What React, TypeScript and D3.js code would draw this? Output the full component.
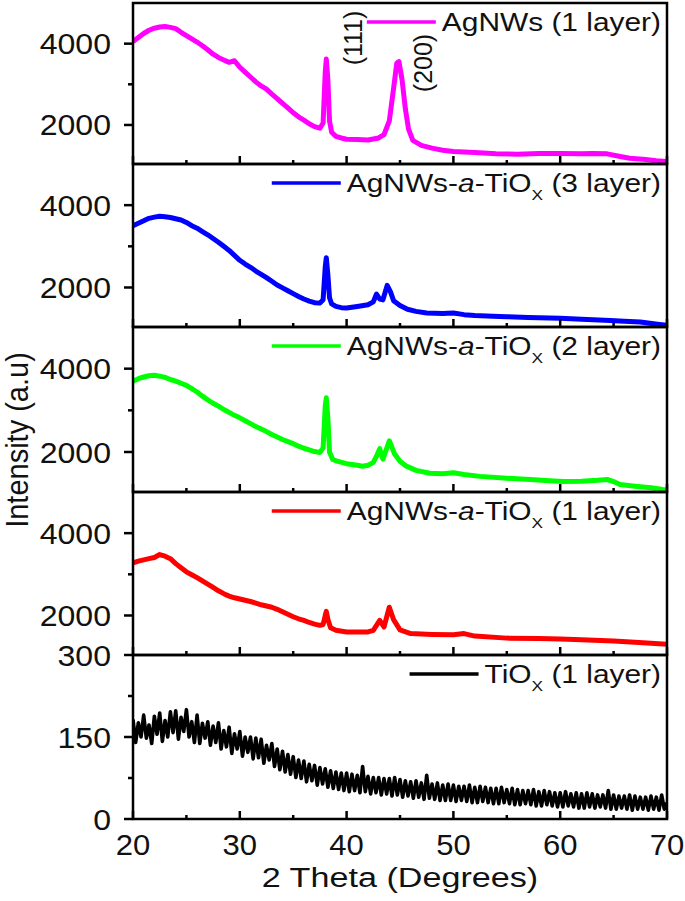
import React, { useEffect, useRef } from "react";
import * as d3 from "d3";

// ---------- data (2θ in degrees, intensity in counts) ----------
const agnw1: [number, number][] = [
  [20, 4050], [20.5, 4150], [21, 4250], [21.5, 4330], [22, 4380], [22.5, 4410], [23, 4420], [23.5, 4400],
  [24, 4370], [24.5, 4280], [25, 4200], [25.5, 4120], [26, 4040], [26.5, 3950], [27, 3850], [27.5, 3740],
  [28, 3660], [28.5, 3600], [29, 3540], [29.5, 3580], [30, 3420], [30.5, 3300], [31, 3180], [31.5, 3060],
  [32, 2960], [32.5, 2880], [33, 2760], [33.5, 2650], [34, 2530], [34.5, 2420], [35, 2300], [35.5, 2200],
  [36, 2120], [36.5, 2030], [37, 1960], [37.5, 1920], [37.8, 2050], [38.0, 3300], [38.1, 3620], [38.25, 3100],
  [38.4, 2100], [38.6, 1820], [39, 1720], [39.5, 1680], [40, 1650], [41, 1640], [42, 1630], [43, 1680],
  [43.5, 1760], [44, 2100], [44.4, 2900], [44.7, 3520], [44.9, 3560], [45.2, 3100], [45.5, 2400], [45.8, 1900],
  [46.2, 1620], [47, 1500], [48, 1430], [49, 1380], [50, 1350], [52, 1320], [54, 1290], [56, 1280],
  [58, 1300], [60, 1300], [62, 1290], [63, 1300], [64.4, 1290], [65.5, 1230], [66.5, 1180], [68, 1150],
  [69, 1120], [70, 1100],
];

const agnwTi3: [number, number][] = [
  [20, 3500], [20.5, 3560], [21, 3620], [21.5, 3680], [22, 3710], [22.5, 3730], [23, 3720], [23.5, 3700],
  [24, 3670], [24.5, 3640], [25, 3580], [25.5, 3500], [26, 3440], [26.5, 3360], [27, 3280], [27.5, 3190],
  [28, 3100], [28.5, 3000], [29, 2900], [29.5, 2780], [30, 2660], [30.5, 2570], [31, 2490], [31.5, 2400],
  [32, 2320], [32.5, 2240], [33, 2150], [33.5, 2060], [34, 1990], [34.5, 1920], [35, 1850], [35.5, 1780],
  [36, 1720], [36.5, 1670], [37, 1630], [37.5, 1620], [37.8, 1700], [38.0, 2500], [38.1, 2720], [38.25, 2300],
  [38.4, 1750], [38.6, 1600], [39, 1540], [39.5, 1510], [40, 1500], [41, 1540], [42, 1580], [42.5, 1650],
  [42.8, 1840], [43.1, 1720], [43.4, 1700], [43.8, 2050], [44.1, 1900], [44.4, 1680], [45, 1560], [45.7, 1470],
  [46.5, 1420], [47.5, 1380], [49, 1370], [50, 1380], [51, 1340], [52, 1320], [53.7, 1300], [55, 1290],
  [57, 1270], [60, 1250], [62, 1230], [64.7, 1200], [66, 1180], [67.5, 1160], [69.3, 1100], [70, 1080],
];

const agnwTi2: [number, number][] = [
  [20, 3700], [20.5, 3760], [21, 3800], [21.5, 3830], [22, 3840], [22.5, 3820], [23, 3790], [23.5, 3740],
  [24, 3700], [24.5, 3650], [25, 3600], [25.5, 3520], [26, 3440], [26.5, 3340], [27, 3250], [27.5, 3170],
  [28, 3100], [28.5, 3020], [29, 2950], [29.5, 2880], [30, 2820], [30.5, 2750], [31, 2680], [31.5, 2610],
  [32, 2550], [32.5, 2490], [33, 2420], [33.5, 2360], [34, 2300], [34.5, 2250], [35, 2200], [35.5, 2140],
  [36, 2090], [36.5, 2050], [37, 2010], [37.5, 1990], [37.8, 2100], [38.0, 3100], [38.1, 3300], [38.25, 2800],
  [38.4, 2000], [38.7, 1820], [39.1, 1780], [40, 1720], [41, 1680], [41.5, 1660], [42, 1680], [42.5, 1750],
  [42.8, 1900], [43.1, 2080], [43.4, 1830], [44.0, 2270], [44.5, 1950], [45, 1780], [45.6, 1660], [46.5, 1560],
  [47.8, 1490], [49, 1480], [50, 1500], [51, 1460], [52.5, 1415], [55, 1370], [57.2, 1340], [59, 1310],
  [60.3, 1290], [62, 1300], [63.5, 1320], [64.4, 1340], [65, 1290], [65.6, 1220], [67, 1180], [68.5, 1140],
  [69.6, 1100], [70, 1090],
];

const agnwTi1: [number, number][] = [
  [20, 3280], [20.5, 3320], [21, 3350], [21.5, 3380], [22, 3410], [22.5, 3480], [23, 3440], [23.5, 3380],
  [24, 3260], [24.5, 3160], [25, 3060], [25.5, 2990], [26, 2920], [26.5, 2840], [27, 2760], [27.5, 2680],
  [28, 2600], [28.5, 2530], [29, 2470], [29.5, 2430], [30, 2400], [30.5, 2370], [31, 2340], [31.5, 2300],
  [32, 2260], [32.5, 2230], [33, 2200], [33.5, 2150], [34, 2090], [34.5, 2030], [35, 1970], [35.5, 1920],
  [36, 1880], [36.5, 1830], [37, 1790], [37.5, 1760], [37.8, 1780], [38.0, 2000], [38.1, 2100], [38.25, 1900],
  [38.5, 1700], [39, 1640], [40, 1600], [41, 1600], [42, 1600], [42.5, 1640], [43.1, 1880], [43.5, 1720],
  [44.0, 2200], [44.4, 1900], [45, 1650], [46, 1560], [48, 1540], [50, 1530], [51, 1560], [52, 1500],
  [55, 1450], [58, 1440], [60, 1430], [62, 1410], [65, 1380], [67, 1350], [70, 1300],
];

// TiOx (1 layer): read every 0.25° from 20° to 70°
const tioxStart = 20;
const tioxStep = 0.25;
const tiox1: number[] = [
  182, 140, 176, 150, 190, 148, 172, 138, 188, 155, 194, 142, 180, 150, 196, 158,
  198, 146, 186, 160, 200, 150, 178, 140, 190, 138, 175, 148, 178, 135, 170, 140,
  176, 128, 162, 132, 168, 120, 156, 128, 160, 115, 150, 122, 150, 110, 148, 112,
  146, 102, 135, 108, 138, 96, 128, 90, 124, 86, 118, 82, 114, 76, 108, 74,
  106, 68, 100, 70, 98, 62, 94, 64, 92, 58, 88, 56, 86, 54, 84, 52,
  84, 50, 82, 52, 80, 48, 96, 50, 78, 46, 76, 48, 76, 44, 74, 46,
  74, 42, 76, 44, 72, 40, 70, 42, 68, 38, 70, 40, 66, 36, 80, 38,
  64, 36, 66, 34, 62, 34, 64, 34, 62, 32, 60, 34, 60, 32, 62, 30,
  58, 30, 60, 32, 58, 30, 56, 28, 56, 28, 58, 30, 54, 28, 56, 26,
  54, 26, 52, 28, 52, 26, 54, 24, 50, 24, 52, 26, 50, 24, 48, 22,
  48, 22, 50, 24, 46, 22, 48, 20, 46, 20, 48, 22, 46, 20, 44, 22,
  44, 20, 52, 18, 44, 18, 42, 20, 42, 18, 44, 16, 42, 18, 40, 18,
  40, 16, 42, 18, 40, 16, 44, 18, 30,
];

const seriesNames = [
  "AgNWs (1 layer)",
  "AgNWs-a-TiOx (3 layer)",
  "AgNWs-a-TiOx (2 layer)",
  "AgNWs-a-TiOx (1 layer)",
  "TiOx (1 layer)",
];
const seriesColors = ["#ff00ff", "#0000ff", "#00ff00", "#ff0000", "#000000"];
const xTicks = [20, 30, 40, 50, 60, 70];
const xMinorTicks = [25, 35, 45, 55, 65];
const upperYTicks = [2000, 4000];
const upperYMinor = [3000];
const bottomYTicks = [0, 150, 300];
const bottomYMinor = [75, 225];
const peakLabels: { text: string; x: number }[] = [
  { text: "(111)", x: 38.1 },
  { text: "(200)", x: 44.8 },
];

// ---------- layout ----------
const W = 685;
const H = 901;
const X0 = 133;
const X1 = 667;
const edges = [3, 164, 327, 492, 655, 819];
const FONT = "'Liberation Sans', Arial, Helvetica, sans-serif";

export default function App() {
  const ref = useRef<SVGSVGElement | null>(null);

  useEffect(() => {
    const svg = d3.select(ref.current);
    svg.selectAll("*").remove();
    const x = d3.scaleLinear().domain([20, 70]).range([X0, X1]);

    const tioxData: [number, number][] = tiox1.map((v, i) => [tioxStart + i * tioxStep, v]);
    const datasets = [agnw1, agnwTi3, agnwTi2, agnwTi1, tioxData];

    const addText = (
      g: any,
      str: string,
      tx: number,
      ty: number,
      size: number,
      anchor: string,
      sx: number
    ) =>
      g
        .append("text")
        .attr("transform", `translate(${tx},${ty}) scale(${sx},1)`)
        .attr("text-anchor", anchor)
        .attr("font-family", FONT)
        .attr("font-size", size)
        .attr("fill", "#111")
        .text(str);

    datasets.forEach((data, i) => {
      const top = edges[i];
      const bottom = edges[i + 1];
      const isBottom = i === 4;
      const y = d3
        .scaleLinear()
        .domain(isBottom ? [0, 300] : [1040, 5000])
        .range([bottom, top]);
      const g = svg.append("g");

      g.append("clipPath")
        .attr("id", `clip${i}`)
        .append("rect")
        .attr("x", X0)
        .attr("y", top)
        .attr("width", X1 - X0)
        .attr("height", bottom - top);

      const line = d3
        .line<[number, number]>()
        .x((d) => x(d[0]))
        .y((d) => y(d[1]));

      g.append("path")
        .datum(data)
        .attr("d", line)
        .attr("fill", "none")
        .attr("stroke", seriesColors[i])
        .attr("stroke-width", isBottom ? 3.6 : 5)
        .attr("stroke-linejoin", "round")
        .attr("clip-path", `url(#clip${i})`);

      // x ticks (inward, on each panel bottom)
      xTicks.forEach((t) => {
        g.append("line")
          .attr("x1", x(t)).attr("x2", x(t))
          .attr("y1", bottom).attr("y2", bottom - 8)
          .attr("stroke", "#000").attr("stroke-width", 2.5);
      });
      xMinorTicks.forEach((t) => {
        g.append("line")
          .attr("x1", x(t)).attr("x2", x(t))
          .attr("y1", bottom).attr("y2", bottom - 4)
          .attr("stroke", "#000").attr("stroke-width", 2.5);
      });

      // y ticks (outward)
      const majors = isBottom ? bottomYTicks : upperYTicks;
      const minors = isBottom ? bottomYMinor : upperYMinor;
      majors.forEach((t) => {
        g.append("line")
          .attr("x1", X0 - 9).attr("x2", X0)
          .attr("y1", y(t)).attr("y2", y(t))
          .attr("stroke", "#000").attr("stroke-width", 2.5);
        addText(g, String(t), X0 - 22, y(t) + 10.5, 30, "end", 1.07);
      });
      minors.forEach((t) => {
        g.append("line")
          .attr("x1", X0 - 5).attr("x2", X0)
          .attr("y1", y(t)).attr("y2", y(t))
          .attr("stroke", "#000").attr("stroke-width", 2.5);
      });

      // frame
      g.append("rect")
        .attr("x", X0)
        .attr("y", top)
        .attr("width", X1 - X0)
        .attr("height", bottom - top)
        .attr("fill", "none")
        .attr("stroke", "#000")
        .attr("stroke-width", 2.5);

      // legend
      const ly = top + 19;
      const sx = 1.15;
      const name = seriesNames[i];
      const t = g
        .append("text")
        .attr("transform", `translate(661,${ly + 8.8}) scale(${sx},1)`)
        .attr("text-anchor", "end")
        .attr("font-family", FONT)
        .attr("font-size", 26)
        .attr("fill", "#111");
      if (name.indexOf("TiOx") >= 0) {
        const [pre, post] = name.split("TiOx");
        if (pre.indexOf("-a-") >= 0) {
          const p = pre.split("-a-");
          t.append("tspan").text(p[0] + "-");
          t.append("tspan").attr("font-style", "italic").text("a");
          t.append("tspan").text("-TiO");
        } else {
          t.append("tspan").text(pre + "TiO");
        }
        t.append("tspan").attr("font-size", 15).attr("dy", 8).text("X");
        t.append("tspan").attr("dy", -8).text(post);
      } else {
        t.text(name);
      }
      const node = t.node() as SVGTextElement;
      const tw = node.getComputedTextLength() * sx;
      const startX = 661 - tw;
      g.append("line")
        .attr("x1", startX - 75)
        .attr("x2", startX - 6)
        .attr("y1", ly)
        .attr("y2", ly)
        .attr("stroke", seriesColors[i])
        .attr("stroke-width", 3.5);

      if (i === 0) {
        peakLabels.forEach((pl, k) => {
          const cx = x(pl.x) + (k === 0 ? 27 : 25);
          const cy = k === 0 ? 38 : 63;
          g.append("text")
            .attr("transform", `translate(${cx},${cy}) rotate(-90)`)
            .attr("text-anchor", "middle")
            .attr("dy", "0.35em")
            .attr("font-family", FONT)
            .attr("font-size", 25)
            .attr("fill", "#111")
            .text(pl.text);
        });
      }

      if (isBottom) {
        xTicks.forEach((tk) => {
          addText(g, String(tk), x(tk), 855, 29, "middle", 1.07);
        });
      }
    });

    // axis titles
    svg
      .append("text")
      .attr("transform", `translate(${(X0 + X1) / 2},887) scale(1.22,1)`)
      .attr("text-anchor", "middle")
      .attr("font-family", FONT)
      .attr("font-size", 28)
      .attr("fill", "#111")
      .text("2 Theta (Degrees)");

    svg
      .append("text")
      .attr("transform", `translate(28,440) rotate(-90) scale(1,1.1)`)
      .attr("text-anchor", "middle")
      .attr("font-family", FONT)
      .attr("font-size", 29)
      .attr("fill", "#111")
      .text("Intensity (a.u)");
  }, []);

  return (
    <div style={{ position: "absolute", left: 0, top: 0, width: W, height: H, background: "#fff" }}>
      <svg ref={ref} width={W} height={H} style={{ display: "block" }} />
    </div>
  );
}
